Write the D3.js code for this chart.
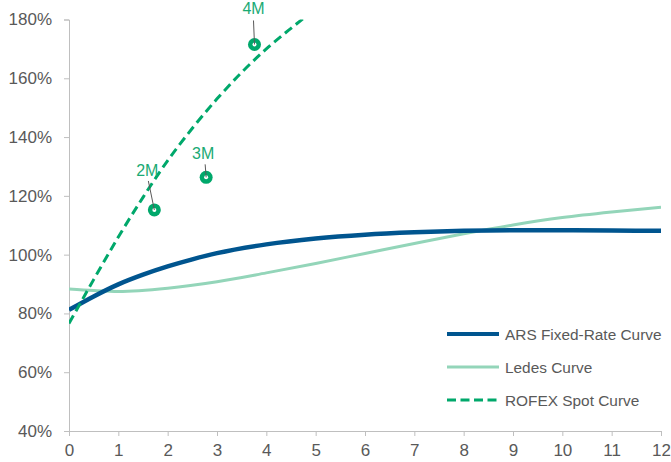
<!DOCTYPE html>
<html>
<head>
<meta charset="utf-8">
<script src="https://cdn.jsdelivr.net/npm/d3@7"></script>
<style>
  html, body { margin: 0; padding: 0; background: #fff; }
  svg { display: block; font-family: "Liberation Sans", Arial, sans-serif; }
</style>
</head>
<body>
<svg id="chart" width="671" height="462"></svg>
<script>
// Tenor in years (x) and implied rate in % (y)
const xTicks = [0, 1, 2, 3, 4, 5, 6, 7, 8, 9, 10, 11, 12];
const yTicks = [40, 60, 80, 100, 120, 140, 160, 180];

const arsX = [0, 0.5, 1, 1.5, 2, 2.5, 3, 4, 5, 6, 7, 8, 9, 10, 11, 12];
const arsY = [81.2, 85.8, 89.9, 93.2, 96.0, 98.4, 100.5, 103.5, 105.5, 106.8, 107.6, 108.1, 108.3, 108.3, 108.2, 108.1];

const ledesX = [0, 0.5, 1, 2, 3, 4, 5, 6, 7, 8, 9, 10, 11, 12];
const ledesY = [88.3, 87.8, 87.5, 88.6, 90.8, 93.8, 97.0, 100.4, 103.8, 107.1, 110.1, 112.6, 114.5, 116.1];

const rofexX = [0, 0.5, 1, 1.5, 2, 2.5, 3, 3.5, 4, 4.5, 4.8];
const rofexY = [76.6, 91.5, 106.0, 119.5, 132.0, 143.0, 153.0, 162.0, 170.0, 177.0, 181.0];

const futNames = ["2M", "3M", "4M"];
const futX = [1.73, 2.78, 3.76];
const futY = [115.2, 126.3, 171.5];

const legendNames = ["ARS Fixed-Rate Curve", "Ledes Curve", "ROFEX Spot Curve"];

// Styling
const colArs = "#00558f", colLedes = "#93d5b9", colRofex = "#00a86b", colAxis = "#bfbfbf", colText = "#595959";
const labelOffsets = { "2M": [-7, -40, -6, -29], "3M": [-3, -24, -1, -13], "4M": [-1, -36, -1, -24] };

const svg = d3.select("#chart");
const m = { left: 69, right: 10, top: 19.5, bottom: 31 };
const W = 671, H = 462;
const x = d3.scaleLinear().domain([0, 12]).range([m.left, W - m.right]);
const y = d3.scaleLinear().domain([40, 180]).range([H - m.bottom, m.top]);

svg.append("defs").append("clipPath").attr("id", "plot")
  .append("rect").attr("x", m.left).attr("y", m.top)
  .attr("width", W - m.right - m.left).attr("height", H - m.bottom - m.top);

// Axes
const xAxis = svg.append("g").attr("transform", `translate(0,${y(40)})`)
  .call(d3.axisBottom(x).tickValues(xTicks).tickSize(5).tickPadding(8).tickFormat(d3.format("d")));
const yAxis = svg.append("g").attr("transform", `translate(${x(0)},0)`)
  .call(d3.axisLeft(y).tickValues(yTicks).tickSize(5).tickPadding(12).tickFormat(d => d + "%"));
[xAxis, yAxis].forEach(g => {
  g.selectAll(".domain").attr("stroke", colAxis).attr("stroke-width", 1);
  g.selectAll(".tick line").attr("stroke", colAxis);
  g.selectAll(".tick text").attr("fill", colText).style("font-size", "17px")
    .style("font-family", "'Liberation Sans', Arial, sans-serif");
});

const line = d3.line().x(d => x(d[0])).y(d => y(d[1])).curve(d3.curveMonotoneX);
const plot = svg.append("g").attr("clip-path", "url(#plot)");

plot.append("path").datum(d3.zip(ledesX, ledesY)).attr("d", line)
  .attr("fill", "none").attr("stroke", colLedes).attr("stroke-width", 3);
plot.append("path").datum(d3.zip(arsX, arsY)).attr("d", line)
  .attr("fill", "none").attr("stroke", colArs).attr("stroke-width", 4.5);
plot.append("path").datum(d3.zip(rofexX, rofexY)).attr("d", line)
  .attr("fill", "none").attr("stroke", colRofex).attr("stroke-width", 3)
  .attr("stroke-dasharray", "9,5");

// ROFEX futures points with labels
futNames.forEach((name, i) => {
  const cx = x(futX[i]), cy = y(futY[i]);
  const o = labelOffsets[name];
  svg.append("circle").attr("cx", cx).attr("cy", cy).attr("r", 6.5).attr("fill", colRofex);
  svg.append("circle").attr("cx", cx).attr("cy", cy).attr("r", 2).attr("fill", "#fff");
  svg.append("line").attr("x1", cx + o[2]).attr("y1", cy + o[3]).attr("x2", cx).attr("y2", cy)
    .attr("stroke", "#595959").attr("stroke-width", 1);
  svg.append("text").attr("x", cx + o[0]).attr("y", cy + o[1] + 6)
    .attr("text-anchor", "middle").attr("fill", "#1aaa74").style("font-size", "16px").text(name);
});

// Legend
const legend = svg.append("g");
const legendStyles = [
  { c: colArs, w: 4, dash: null },
  { c: colLedes, w: 3, dash: null },
  { c: colRofex, w: 3, dash: "9,4.5" }
];
legendNames.forEach((name, i) => {
  const ly = 334 + i * 33;
  const s = legendStyles[i];
  legend.append("line").attr("x1", 447).attr("x2", 499).attr("y1", ly).attr("y2", ly)
    .attr("stroke", s.c).attr("stroke-width", s.w).attr("stroke-dasharray", s.dash);
  legend.append("text").attr("x", 505).attr("y", ly + 5.5).attr("fill", colText)
    .style("font-size", "15.4px").text(name);
});
</script>
</body>
</html>
